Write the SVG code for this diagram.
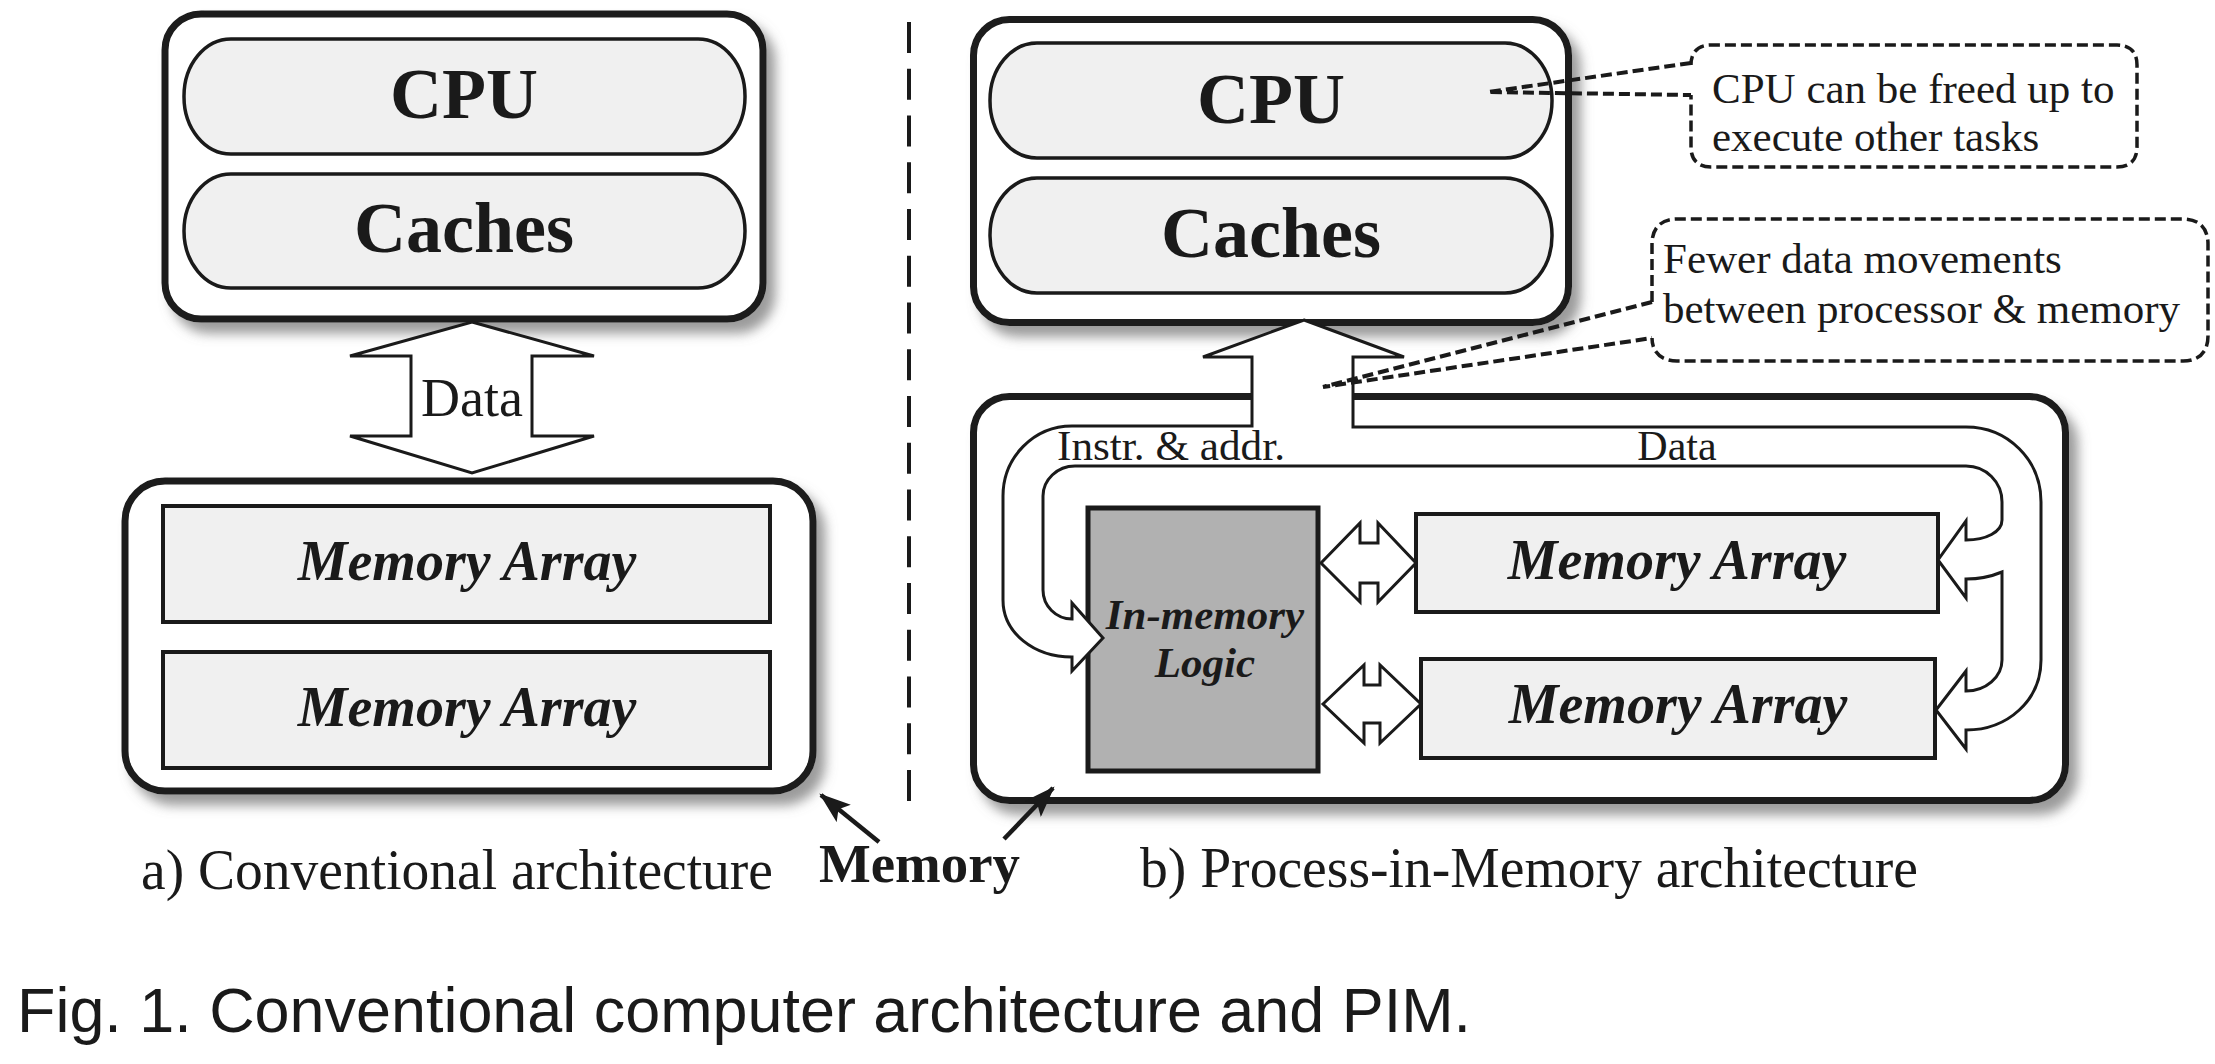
<svg xmlns="http://www.w3.org/2000/svg" width="2215" height="1064" viewBox="0 0 2215 1064">
<style>
.bg{fill:#ffffff}
.outer{fill:#ffffff;stroke:#1a1a1a;stroke-width:7}
.pill{fill:#f0f0f0;stroke:#1a1a1a;stroke-width:3.5}
.arr{fill:#f0f0f0;stroke:#1a1a1a;stroke-width:4}
.logic{fill:#b1b1b1;stroke:#1a1a1a;stroke-width:5}
.hollow{fill:#ffffff;stroke:#1a1a1a;stroke-width:3;stroke-linejoin:miter}
.callout{fill:none;stroke:#1a1a1a;stroke-width:3.5;stroke-dasharray:11 5}
.lead{fill:none;stroke:#1a1a1a;stroke-width:4;stroke-dasharray:11 5}
.sep{stroke:#1a1a1a;stroke-width:4;stroke-dasharray:31 15.75}
.ptr{stroke:#1a1a1a;stroke-width:4.5;fill:none}
.serif{font-family:"Liberation Serif","Times New Roman",serif;fill:#1a1a1a}
.big{font-size:72px;font-weight:bold;text-anchor:middle}
.ma{font-size:56px;font-weight:bold;font-style:italic;text-anchor:middle}
.lg{font-size:43px;font-weight:bold;font-style:italic;text-anchor:middle}
.note{font-size:43px}
.band{font-size:42px}
.cap{font-size:56px}
.fig{font-family:"Liberation Sans",Arial,sans-serif;font-size:63px;fill:#1a1a1a}
</style>
<defs>
<filter id="shadow" x="-10%" y="-10%" width="130%" height="135%">
<feGaussianBlur in="SourceAlpha" stdDeviation="6"/>
<feOffset dx="9" dy="11" result="b"/>
<feFlood flood-color="#7a7a7a" flood-opacity="0.75"/>
<feComposite in2="b" operator="in"/>
<feMerge><feMergeNode/><feMergeNode in="SourceGraphic"/></feMerge>
</filter>
<marker id="head" viewBox="0 0 14 10" refX="13" refY="5" markerWidth="7" markerHeight="5" markerUnits="strokeWidth" orient="auto">
<path d="M0,0 L14,5 L0,10 L3,5 Z" fill="#1a1a1a"/>
</marker>
</defs>
<rect class="bg" x="0" y="0" width="2215" height="1064"/>

<!-- a) Conventional -->
<g id="cpu-box-a">
<rect class="outer" x="165" y="14" width="598" height="305" rx="36" filter="url(#shadow)"/>
</g>
<g id="cpu-a">
<rect class="pill" x="184" y="39" width="561" height="115" rx="47" ry="57"/>
<text class="serif big" x="464" y="118">CPU</text>
</g>
<g id="caches-a">
<rect class="pill" x="184" y="174" width="561" height="114" rx="47" ry="57"/>
<text class="serif big" x="464" y="252">Caches</text>
</g>
<g id="memory-box-a">
<rect class="outer" x="125" y="481" width="688" height="310" rx="40" filter="url(#shadow)"/>
</g>
<g id="memarray-a1">
<rect class="arr" x="163" y="506" width="607" height="116"/>
<text class="serif ma" x="467" y="580">Memory Array</text>
</g>
<g id="memarray-a2">
<rect class="arr" x="163" y="652" width="607" height="116"/>
<text class="serif ma" x="467" y="726">Memory Array</text>
</g>

<!-- b) PIM -->
<g id="cpu-box-b">
<rect class="outer" x="973.5" y="19.5" width="595" height="303" rx="36" filter="url(#shadow)"/>
</g>
<g id="cpu-b">
<rect class="pill" x="990" y="43" width="562" height="115" rx="47" ry="57"/>
<text class="serif big" x="1271" y="123">CPU</text>
</g>
<g id="caches-b">
<rect class="pill" x="990" y="178" width="562" height="115" rx="47" ry="57"/>
<text class="serif big" x="1271" y="257">Caches</text>
</g>
<g id="memory-box-b">
<rect class="outer" x="973.5" y="396.5" width="1092" height="404" rx="36" filter="url(#shadow)"/>
</g>
<g id="logic">
<rect class="logic" x="1088" y="508" width="230" height="263"/>
<text class="serif lg" x="1205" y="629">In-memory</text>
<text class="serif lg" x="1205" y="677">Logic</text>
</g>
<g id="memarray-b1">
<rect class="arr" x="1416" y="514" width="522" height="98"/>
<text class="serif ma" x="1677" y="579">Memory Array</text>
</g>
<g id="memarray-b2">
<rect class="arr" x="1421" y="659" width="514" height="99"/>
<text class="serif ma" x="1678" y="723">Memory Array</text>
</g>

<g id="connectors">
<line class="sep" x1="909" y1="22" x2="909" y2="801"/>
<path class="hollow" d="M472,322 L594,356 L532,356 L532,436 L594,436 L472,473 L350,436 L411,436 L411,356 L350,356 Z"/>
<path class="hollow" d="M1304,320 L1404,357 L1353,357 L1353,427 L1966,427 C2008,427 2041,460 2041,502 L2041,660 C2041,700 2008,730 1966,730 L1966,749 L1936,710 L1966,671 L1966,691 C1986,691 2002,677 2002,660 L2002,572 C1990,577 1978,579 1966,579 L1966,598 L1938,560 L1966,521 L1966,540 C1986,540 2002,532 2002,520 L2002,502 C2002,482 1986,466 1966,466 L1075,466 C1057,466 1043,480 1043,496 L1043,590 C1043,606 1056,619 1072,619 L1072,603 L1103,638 L1072,671 L1072,657 C1034,657 1003,633 1003,600 L1003,496 C1003,457 1034,426 1072,426 L1252,426 L1252,357 L1203,357 Z"/>
<path class="hollow" d="M1321,563 L1360,523 L1360,543 L1378,543 L1378,523 L1416,563 L1378,602 L1378,583 L1360,583 L1360,602 Z"/>
<path class="hollow" d="M1323,704 L1364,665 L1364,685 L1380,685 L1380,665 L1421,704 L1380,743 L1380,723 L1364,723 L1364,743 Z"/>
<line class="ptr" x1="879" y1="842" x2="821" y2="795" marker-end="url(#head)"/>
<line class="ptr" x1="1004" y1="839" x2="1053" y2="788" marker-end="url(#head)"/>
<path class="lead" d="M1691,63 L1488,92 L1691,95"/>
<path class="lead" d="M1652,302 L1323,387 L1652,338"/>
</g>

<g id="callout-cpu">
<path class="callout" d="M1691,63 L1691,65 C1691,52 1698,45 1711,45 L2117,45 C2130,45 2137,52 2137,65 L2137,147 C2137,160 2130,167 2117,167 L1711,167 C1698,167 1691,160 1691,147 L1691,95"/>
<text class="serif note" x="1712" y="103">CPU can be freed up to</text>
<text class="serif note" x="1712" y="151">execute other tasks</text>
</g>
<g id="callout-data">
<path class="callout" d="M1652,302 L1652,244 C1652,228 1661,219 1677,219 L2183,219 C2199,219 2208,228 2208,244 L2208,336 C2208,352 2199,361 2183,361 L1677,361 C1661,361 1652,352 1652,338"/>
<text class="serif note" x="1663" y="273">Fewer data movements</text>
<text class="serif note" x="1663" y="323">between processor &amp; memory</text>
</g>

<g id="labels">
<text class="serif" x="472" y="416" font-size="54" text-anchor="middle">Data</text>
<text class="serif band" x="1057" y="460" textLength="228" lengthAdjust="spacingAndGlyphs">Instr. &amp; addr.</text>
<text class="serif band" x="1677" y="460" text-anchor="middle">Data</text>
<text class="serif cap" x="141" y="889" textLength="632" lengthAdjust="spacingAndGlyphs">a) Conventional architecture</text>
<text class="serif" x="819" y="882" font-size="54" font-weight="bold" textLength="201" lengthAdjust="spacingAndGlyphs">Memory</text>
<text class="serif cap" x="1140" y="887" textLength="778" lengthAdjust="spacingAndGlyphs">b) Process-in-Memory architecture</text>
<text class="fig" x="17" y="1032" textLength="1454" lengthAdjust="spacingAndGlyphs">Fig. 1. Conventional computer architecture and PIM.</text>
</g>
</svg>
